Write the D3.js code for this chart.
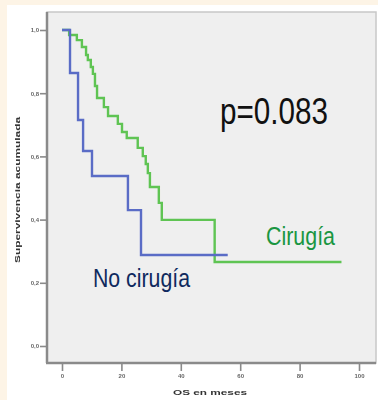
<!DOCTYPE html>
<html>
<head>
<meta charset="utf-8">
<script src="https://cdn.jsdelivr.net/npm/d3@7"></script>
<style>
    body { margin: 0; background: #fdf4e6; }
    text { font-family: "Liberation Sans", Arial, sans-serif; }
</style>
</head>
<body>
<script>
// Kaplan-Meier curves

var xTicks = [0, 20, 40, 60, 80, 100];
var yTicks = [0, 0.2, 0.4, 0.6, 0.8, 1.0];

// No cirugía (blue)
var blueTimes = [0, 2.7, 5.4, 7.1, 10.1, 22.2, 26.6, 55.8];
var blueSurv = [1, 0.864, 0.715, 0.617, 0.538, 0.430, 0.288, 0.288];
var blueCensor = [6.5, 25.5, 30, 55.5];

// Cirugía (green)
var greenTimes = [0, 2.4, 5.0, 6.7, 8.1, 8.7, 9.7, 10.4, 11.1, 11.8, 14.1, 15.5, 18.8, 20.2, 21.8, 25.5, 27.2, 28.2, 28.9, 29.6, 32.6, 33.6, 51.4, 94.1];
var greenSurv = [1, 0.984, 0.968, 0.946, 0.921, 0.905, 0.883, 0.861, 0.823, 0.785, 0.756, 0.728, 0.703, 0.677, 0.658, 0.627, 0.601, 0.576, 0.547, 0.503, 0.453, 0.399, 0.266, 0.266];
var greenCensor = [1.5, 4, 13, 17, 24, 31, 35.3, 38, 42, 48, 56.5, 94];

window.onload = function(){
    var svg = d3.select("body")
        .append("svg")
        .attr("width", 378)
        .attr("height", 400)
        .style("display", "block");

    //soft blur, the original is a scaled screenshot
    var defs = svg.append("defs");
    defs.append("filter").attr("id", "soft")
        .append("feGaussianBlur").attr("stdDeviation", 0.5);
    defs.append("filter").attr("id", "blurry")
        .append("feGaussianBlur").attr("stdDeviation", 0.7);

    //white panel on the beige page
    svg.append("rect")
        .attr("x", 7).attr("y", 5)
        .attr("width", 371).attr("height", 395)
        .style("fill", "#ffffff");

    //grey plot area
    svg.append("rect")
        .attr("x", 47).attr("y", 12)
        .attr("width", 329).attr("height", 351)
        .style("fill", "#efefef")
        .style("stroke", "#c8c8c8")
        .style("stroke-width", 1.5);

    var x = d3.scaleLinear().domain([0, 100]).range([62, 359]);
    var y = d3.scaleLinear().domain([0, 1]).range([346, 30]);

    //axes
    var yAxis = d3.axisLeft(y)
        .tickValues(yTicks)
        .tickSize(7)
        .tickSizeOuter(0)
        .tickFormat(function(d){ return d3.format(".1f")(d).replace(".", ","); });
    var xAxis = d3.axisBottom(x)
        .tickValues(xTicks)
        .tickSize(8)
        .tickSizeOuter(0)
        .tickFormat(d3.format("d"));

    var gy = svg.append("g")
        .attr("transform", "translate(47,0)")
        .attr("filter", "url(#blurry)")
        .call(yAxis);
    gy.select(".domain").attr("d", "M0,12V363").style("stroke", "#8a8a8a").style("stroke-width", 2.5);

    var gx = svg.append("g")
        .attr("transform", "translate(0,363)")
        .attr("filter", "url(#blurry)")
        .call(xAxis);
    gx.select(".domain").attr("d", "M46,0H376").style("stroke", "#8a8a8a").style("stroke-width", 2.5);

    svg.selectAll(".tick line").style("stroke", "#8a8a8a").style("stroke-width", 1.6);
    svg.selectAll(".tick text")
        .style("font-size", "6px")
        .style("fill", "#666")
        .style("font-weight", "bold");
    gy.selectAll(".tick text").attr("x", -8);
    gx.selectAll(".tick text").attr("y", 11);

    //axis titles
    svg.append("text")
        .attr("transform", "translate(20,190) rotate(-90)")
        .attr("text-anchor", "middle")
        .attr("textLength", 146)
        .attr("lengthAdjust", "spacingAndGlyphs")
        .attr("filter", "url(#blurry)")
        .style("font-size", "8px")
        .style("font-weight", "bold")
        .style("fill", "#333")
        .text("Supervivencia acumulada");

    svg.append("text")
        .attr("x", 210).attr("y", 395)
        .attr("text-anchor", "middle")
        .attr("textLength", 74)
        .attr("lengthAdjust", "spacingAndGlyphs")
        .attr("filter", "url(#blurry)")
        .style("font-size", "8px")
        .style("font-weight", "bold")
        .style("fill", "#333")
        .text("OS en meses");

    //survival step curves
    var step = d3.line()
        .x(function(d){ return x(d[0]); })
        .y(function(d){ return y(d[1]); })
        .curve(d3.curveStepAfter);

    var groups = [
        { times: greenTimes, surv: greenSurv, censor: greenCensor, color: "#5fc453" },
        { times: blueTimes, surv: blueSurv, censor: blueCensor, color: "#5a6cc6" }
    ];

    groups.forEach(function(g){
        var pts = g.times.map(function(t, i){ return [t, g.surv[i]]; });
        svg.append("path")
            .datum(pts)
            .attr("d", step)
            .attr("filter", "url(#soft)")
            .style("fill", "none")
            .style("stroke", g.color)
            .style("stroke-width", 2.4);

        //censor marks sit on the step value at that time
        var bis = d3.bisector(function(d){ return d; }).right;
        svg.selectAll(null)
            .data(g.censor)
            .enter()
            .append("line")
            .attr("x1", function(d){ return x(d); })
            .attr("x2", function(d){ return x(d); })
            .attr("y1", function(d){ return y(g.surv[bis(g.times, d) - 1]) - 2.5; })
            .attr("y2", function(d){ return y(g.surv[bis(g.times, d) - 1]) + 2.5; })
            .attr("filter", "url(#soft)")
            .style("stroke", g.color)
            .style("stroke-width", 2.4);
    });

    //annotations
    svg.append("text")
        .attr("x", 220).attr("y", 124)
        .attr("textLength", 108)
        .attr("lengthAdjust", "spacingAndGlyphs")
        .style("font-size", "36px")
        .style("fill", "#111")
        .text("p=0.083");

    svg.append("text")
        .attr("x", 266).attr("y", 245)
        .attr("textLength", 69)
        .attr("lengthAdjust", "spacingAndGlyphs")
        .style("font-size", "25px")
        .style("fill", "#1a9641")
        .text("Cirugía");

    svg.append("text")
        .attr("x", 93).attr("y", 287)
        .attr("textLength", 97)
        .attr("lengthAdjust", "spacingAndGlyphs")
        .style("font-size", "25px")
        .style("fill", "#0f2a5e")
        .text("No cirugía");
}
</script>
</body>
</html>
